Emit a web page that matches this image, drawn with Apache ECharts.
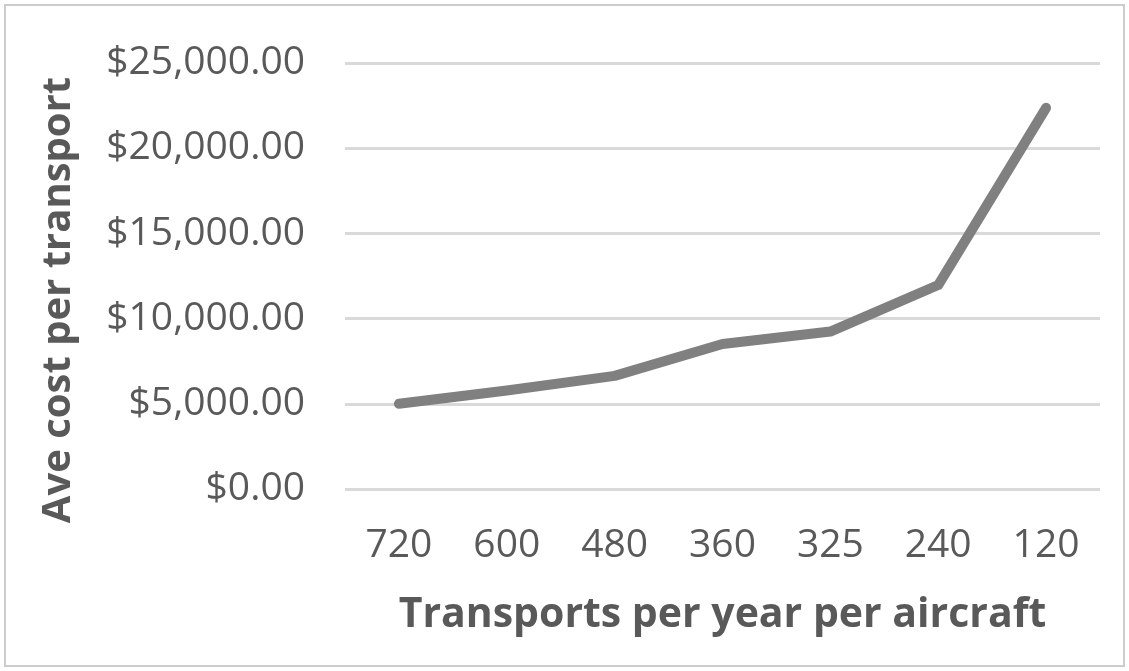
<!DOCTYPE html>
<html>
<head>
<meta charset="utf-8">
<script src="https://cdn.jsdelivr.net/npm/echarts@6/dist/echarts.min.js"></script>
<style>
  html, body { margin: 0; padding: 0; background: #fff; }
  #main { width: 1129px; height: 671px; }
</style>
</head>
<body>
<div id="main"></div>
<script>
// transports per year per aircraft (x categories)
const transports = ['720', '600', '480', '360', '325', '240', '120']
// average cost per transport
const aveCost = [5000, 5780, 6640, 8510, 9240, 11970, 22370]

const textColor = '#595959'
const fontFam = '"Open Sans", "Noto Sans", sans-serif'

const chart = echarts.init(document.getElementById('main'), null, { renderer: 'canvas' })

const option = {
  animation: false,
  backgroundColor: '#ffffff',
  graphic: [
    {
      type: 'rect',
      shape: { x: 5, y: 5, width: 1119, height: 661 },
      style: { fill: 'none', stroke: '#cccccc', lineWidth: 2 },
      z: -1
    }
  ],
  grid: { left: 345, right: 29, top: 63, bottom: 182 },
  xAxis: {
    type: 'category',
    data: transports,
    boundaryGap: true,
    axisLine: { show: false },
    axisTick: { show: false },
    axisLabel: { color: textColor, fontSize: 39, fontFamily: fontFam, margin: 37 },
    name: 'Transports per year per aircraft',
    nameLocation: 'middle',
    nameGap: 106,
    nameTextStyle: { color: textColor, fontSize: 41, fontWeight: 'bold', fontFamily: fontFam }
  },
  yAxis: {
    type: 'value',
    min: 0,
    max: 25000,
    interval: 5000,
    axisLine: { show: false },
    axisTick: { show: false },
    splitLine: { lineStyle: { color: '#d9d9d9', width: 3 } },
    axisLabel: {
      color: textColor,
      fontSize: 39,
      fontFamily: fontFam,
      margin: 40,
      formatter: function (v) {
        return '$' + v.toLocaleString('en-US', { minimumFractionDigits: 2, maximumFractionDigits: 2 })
      }
    },
    name: 'Ave cost per transport',
    nameLocation: 'middle',
    nameGap: 266,
    nameTextStyle: {
      color: textColor,
      fontSize: 40,
      fontWeight: 'bold',
      fontFamily: fontFam,
      padding: [0, 48, 0, 0]
    }
  },
  series: [
    {
      type: 'line',
      data: aveCost,
      symbol: 'none',
      lineStyle: { color: '#808080', width: 10, cap: 'round', join: 'round' }
    }
  ]
}

chart.setOption(option)
</script>
</body>
</html>
